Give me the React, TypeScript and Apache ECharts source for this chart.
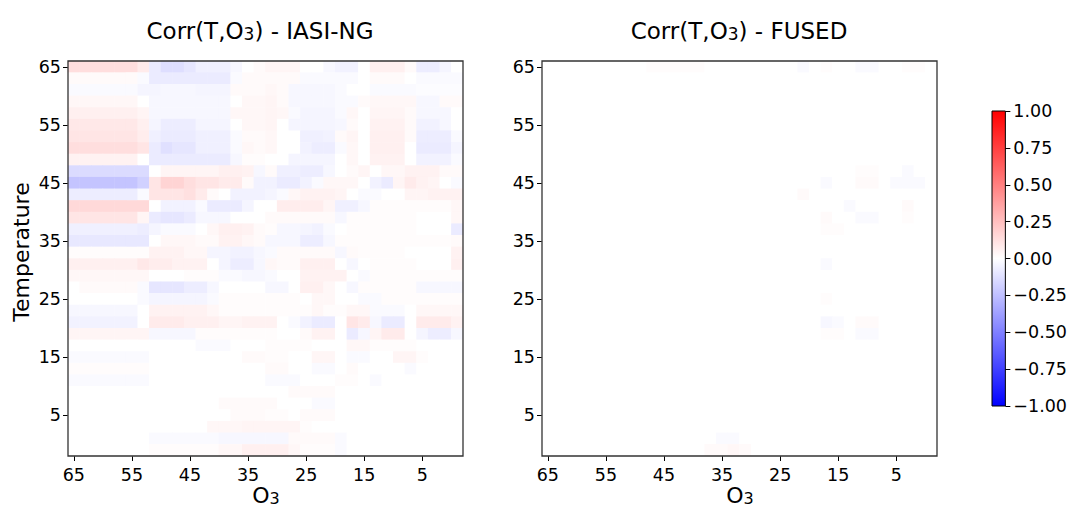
import React, { useEffect, useRef } from 'react';
import * as echarts from 'echarts';

const FONT = '"DejaVu Sans", sans-serif';

// Cell centres (index units) of the 34x34 correlation grid
const cellCenters = ['-1', '1', '3', '5', '7', '9', '11', '13', '15', '17', '19', '21', '23', '25', '27', '29', '31', '33',
  '35', '37', '39', '41', '43', '45', '47', '49', '51', '53', '55', '57', '59', '61', '63', '65'];
const tickLabels = ['5', '15', '25', '35', '45', '55', '65'];
const colorbarMin = -1;
const colorbarMax = 1;
const colorbarStep = 0.25;

// Corr(T,O3) - IASI-NG, rows from top (T=65) to bottom, columns from left (O3=65) to right
const iasiRow00 = [0.13,0.13,0.13,0.13,0.13,0.13,0.08,-0.08,-0.13,-0.13,-0.1,-0.06,-0.06,-0.06,-0.03,0,0.02,0.04,0.04,0.04,0,0,-0.03,-0.05,-0.05,0,0.06,0.06,0.06,0.02,-0.07,-0.07,-0.04,0];
const iasiRow01 = [0.02,0.02,0.02,0.02,0.02,0.02,-0.02,-0.08,-0.08,-0.08,-0.08,-0.08,-0.08,-0.08,-0.02,0.02,0.02,0.02,0.02,0.02,-0.02,-0.02,-0.02,-0.02,-0.02,0,0.02,0.02,0.02,0,-0.02,-0.02,-0.02,-0.02];
const iasiRow02 = [-0.02,-0.02,-0.02,-0.02,-0.02,-0.02,-0.04,-0.04,-0.03,-0.03,-0.03,-0.04,-0.04,-0.04,0.02,0.02,0.02,0.03,0.02,-0.03,-0.03,-0.03,-0.03,-0.02,0,0,-0.02,-0.02,-0.02,-0.02,-0.01,-0.01,-0.01,-0.01];
const iasiRow03 = [0.03,0.03,0.03,0.03,0.03,0.03,0,-0.03,-0.03,-0.03,-0.03,-0.03,-0.03,-0.03,0,0.03,0.03,0.04,0.02,-0.03,-0.03,-0.03,-0.03,-0.02,-0.02,0.02,0.03,0.03,0.03,0.03,-0.03,-0.03,0.02,0.02];
const iasiRow04 = [0.06,0.06,0.06,0.06,0.06,0.06,0.04,-0.03,-0.03,-0.03,-0.03,-0.03,-0.03,-0.03,0.03,0.03,0.03,0.04,0.03,-0.02,-0.04,-0.04,-0.04,-0.02,0.03,0,0.04,0.04,0.04,0.02,-0.03,-0.03,-0.03,0];
const iasiRow05 = [0.09,0.09,0.09,0.09,0.09,0.09,0.06,-0.04,-0.07,-0.07,-0.07,-0.04,-0.04,-0.04,0,0.03,0.03,0.04,0,-0.04,-0.04,-0.04,-0.04,-0.03,0.02,0,0.05,0.05,0.05,0.02,-0.05,-0.05,-0.03,0];
const iasiRow06 = [0.1,0.1,0.1,0.1,0.1,0.1,0.07,-0.06,-0.08,-0.08,-0.08,-0.06,-0.06,-0.06,-0.02,0.02,0.02,0.03,0,0,-0.06,-0.06,-0.05,0.02,0.04,0,0.06,0.06,0.06,0.02,-0.07,-0.07,-0.07,-0.02];
const iasiRow07 = [0.13,0.13,0.13,0.13,0.13,0.13,0.1,-0.08,-0.12,-0.1,-0.1,-0.06,-0.06,-0.06,-0.02,0.03,0.02,0.03,0,0,-0.05,-0.07,-0.07,-0.02,0.03,0,0.06,0.06,0.06,0,-0.08,-0.08,-0.08,-0.04];
const iasiRow08 = [0.05,0.05,0.05,0.05,0.05,0.05,0,-0.08,-0.08,-0.08,-0.08,-0.08,-0.08,-0.08,-0.03,0.01,0.01,0,0,-0.04,-0.04,-0.04,-0.04,0,0.03,0,0.05,0.05,0.05,0,-0.05,-0.05,-0.05,-0.02];
const iasiRow09 = [-0.14,-0.14,-0.14,-0.14,-0.14,-0.14,-0.14,0,0.04,0.04,0.04,0.04,0.04,0.06,0.06,0.05,-0.03,0.02,-0.06,-0.06,-0.07,-0.07,-0.03,0,0.02,0.04,0,0.03,0.03,0.05,0.05,0.05,0.02,0.02];
const iasiRow10 = [-0.23,-0.23,-0.23,-0.23,-0.23,-0.23,-0.18,0.1,0.17,0.17,0.13,0.1,0.1,0.08,0.08,0.02,-0.05,-0.05,-0.08,-0.08,-0.05,-0.02,0.03,0.03,0.03,0,-0.05,-0.08,0.04,0.08,0.05,0.04,0,-0.02];
const iasiRow11 = [-0.07,-0.07,-0.07,-0.07,-0.07,-0.07,-0.02,0.1,0.1,0.1,0.12,0.08,0.02,0,-0.05,-0.05,-0.05,-0.04,-0.02,0.03,0.05,0.05,0.05,0.04,0,-0.02,-0.02,0,0,0.04,0.04,0.05,0.05,0.05];
const iasiRow12 = [0.15,0.15,0.15,0.15,0.15,0.15,0.15,0,-0.05,-0.05,-0.05,-0.02,-0.08,-0.08,-0.08,-0.04,0,0,0.07,0.07,0.07,0.07,0.04,-0.06,-0.06,-0.03,0.01,0.01,0.01,0.01,0.01,0.01,0.01,0.03];
const iasiRow13 = [0.1,0.1,0.1,0.1,0.1,0.1,0.04,-0.08,-0.1,-0.1,-0.08,-0.03,-0.03,-0.03,0,0,0,0.02,0.02,0.02,0.02,0.02,0.02,-0.03,0.01,0.01,0.01,0.01,0.01,0.01,0,0,0,0.03];
const iasiRow14 = [-0.06,-0.06,-0.06,-0.06,-0.06,-0.06,-0.07,-0.04,-0.02,-0.02,-0.02,0,0.03,0.06,0.06,0.05,0.02,0.01,-0.03,-0.03,-0.04,-0.05,-0.02,0,0.01,0.01,0.01,0.01,0.01,0.01,0,0,0,-0.08];
const iasiRow15 = [-0.09,-0.09,-0.09,-0.09,-0.09,-0.09,-0.09,0,0.03,0.03,0.03,0.02,0.02,0.05,0.05,0.03,0.02,-0.03,-0.03,-0.03,-0.07,-0.07,-0.03,0.01,0.01,0.01,0.01,0.01,0.01,0.01,0.01,0.01,0.01,0.02];
const iasiRow16 = [0.01,0.01,0.01,0.01,0.01,0.01,0.01,0.05,0.05,0.05,0.03,0.03,-0.04,-0.04,-0.05,-0.05,-0.03,-0.02,0.02,0.02,0.02,0.02,0.02,-0.03,0.02,0.01,0.01,0.01,0.01,0,0,0,0,0.05];
const iasiRow17 = [0.06,0.06,0.06,0.06,0.06,0.06,0.09,0.07,0.07,0.05,0.05,0.05,0,-0.04,-0.07,-0.07,-0.03,0.03,0.02,0.02,0.06,0.06,0.06,0,-0.03,0,0.01,0.01,0.01,0.01,0,0,0,0.06];
const iasiRow18 = [0.03,0.03,0.03,0.03,0.03,0.03,0.03,0,0,0,0.01,0.01,0.01,-0.02,-0.02,-0.03,-0.03,-0.02,0,0,0.05,0.05,0.05,0.05,0,-0.02,0.01,0.01,0.01,0.01,0.01,0.01,0.01,0.01];
const iasiRow19 = [0,0.02,0.02,0.02,0.02,0.02,-0.02,-0.1,-0.1,-0.1,-0.07,-0.07,-0.03,0,0,0,0,-0.03,-0.03,0,0.06,0.06,0.03,0,-0.03,0.01,0.01,0.01,0.01,0.01,-0.03,-0.03,-0.03,-0.03];
const iasiRow20 = [0,0,0,0,0,0,-0.02,-0.04,-0.04,-0.04,-0.04,-0.04,-0.02,0.01,0.01,0.01,0.01,0.01,0.01,0.01,0,0.03,0.03,0,0,-0.02,-0.02,0.01,0.01,0.01,0.01,0.01,0.01,0.01];
const iasiRow21 = [-0.03,-0.03,-0.03,-0.03,-0.03,-0.03,0,0.05,0.05,0.05,0.05,0.05,0.03,0.01,0.01,0.01,0.01,0.01,0.01,0.01,0.01,0.03,0.01,0.01,0.03,0.03,-0.02,-0.02,-0.02,0,0.03,0.03,0.03,0.03];
const iasiRow22 = [-0.05,-0.05,-0.05,-0.05,-0.05,-0.05,0,0.08,0.08,0.08,0.06,0.06,0.06,0.04,0.04,0.05,0.05,0.05,0,-0.02,-0.05,-0.08,-0.08,0,0.1,0.08,-0.03,-0.08,-0.08,0,0.08,0.08,0.08,0.05];
const iasiRow23 = [0.04,0.04,0.04,0.04,0.04,0.04,0.04,-0.03,-0.03,-0.03,-0.03,0.01,0.01,0.01,0.01,0.01,0.01,0.01,0,0,0.02,0.05,0.05,0,-0.08,-0.03,0.04,0.08,0.08,0,-0.04,-0.07,-0.07,-0.03];
const iasiRow24 = [0,0,0,0,0,0,0,0,0,0,0,-0.02,-0.02,-0.02,0,0,0,0.01,0.01,0.01,0.01,0,0,0,0.03,0.03,0.01,0.01,0.01,0.01,0,0,0,0];
const iasiRow25 = [-0.02,-0.02,-0.02,-0.02,-0.02,-0.02,-0.02,0,0,0,0,0,0,0,0,0.02,0.02,0.01,0.01,0,0,0.035,0.035,0,-0.02,-0.02,0,0,0.04,0.04,0.01,0,0,0];
const iasiRow26 = [0.01,0.01,0.01,0.01,0.01,0.01,0.01,0,0,0,0,0,0,0,0,0,0,0.02,0.02,0,0,-0.02,-0.02,0,0.02,0,0,0,0,-0.02,0,0,0,0];
const iasiRow27 = [-0.02,-0.02,-0.02,-0.02,-0.02,-0.02,-0.02,0,0,0,0,0,0,0,0,0,0,-0.02,-0.02,-0.02,0,0,0,0.01,0.01,0,-0.02,0,0,0,0,0,0,0];
const iasiRow28 = [0,0,0,0,0,0,0,0,0,0,0,0,0,0,0,0,0,0,0,0.02,0.02,0.02,0.02,0,0,0,0,0,0,0,0,0,0,0];
const iasiRow29 = [0,0,0,0,0,0,0,0,0,0,0,0,0,0.02,0.02,0.02,0.02,0.02,0,0,0,-0.02,-0.02,0,0,0,0,0,0,0,0,0,0,0];
const iasiRow30 = [0,0,0,0,0,0,0,0,0,0,0,0,0,0,0.02,0.02,0.02,0.01,0.01,0,0.02,0.02,0.02,0,0,0,0,0,0,0,0,0,0,0];
const iasiRow31 = [0,0,0,0,0,0,0,0,0,0,0,0,0.03,0.03,0.03,0.04,0.04,0.04,0.04,0.04,0.01,0,0,0,0,0,0,0,0,0,0,0,0,0];
const iasiRow32 = [0,0,0,0,0,0,0,-0.02,-0.02,-0.02,-0.02,-0.02,-0.02,-0.03,-0.03,-0.03,-0.03,-0.03,-0.03,0.02,0.02,0.02,0.02,-0.02,0,0,0,0,0,0,0,0,0,0];
const iasiRow33 = [0,0,0,0,0,0,0,0.01,0.01,0.01,0.01,0.01,0.01,0.03,0.03,0.06,0.06,0.06,0.06,0.03,0.01,0.01,0.01,-0.02,0,0,0,0,0,0,0,0,0,0];

const iasiRows = [iasiRow00, iasiRow01, iasiRow02, iasiRow03, iasiRow04, iasiRow05, iasiRow06, iasiRow07, iasiRow08,
  iasiRow09, iasiRow10, iasiRow11, iasiRow12, iasiRow13, iasiRow14, iasiRow15, iasiRow16, iasiRow17, iasiRow18,
  iasiRow19, iasiRow20, iasiRow21, iasiRow22, iasiRow23, iasiRow24, iasiRow25, iasiRow26, iasiRow27, iasiRow28,
  iasiRow29, iasiRow30, iasiRow31, iasiRow32, iasiRow33];

// Corr(T,O3) - FUSED: nearly zero everywhere; the few faintly coloured cells [rowFromTop, colFromLeft, value]
const fusedCells = [
  [0, 9, 0.01], [0, 10, 0.01], [0, 11, 0.01], [0, 12, 0.01], [0, 13, 0.01], [0, 22, -0.02], [0, 24, 0.01],
  [0, 27, -0.02], [0, 28, -0.02], [0, 31, 0.01], [0, 32, 0.01],
  [9, 27, 0.01], [9, 28, 0.01], [9, 31, -0.02],
  [10, 24, -0.02], [10, 27, 0.02], [10, 28, 0.02], [10, 30, -0.02], [10, 31, -0.02], [10, 32, -0.02],
  [11, 22, 0.02],
  [12, 26, -0.02], [12, 31, 0.02],
  [13, 24, 0.02], [13, 27, -0.02], [13, 28, -0.02], [13, 31, 0.01],
  [14, 24, 0.01], [14, 25, 0.01],
  [17, 24, -0.02],
  [20, 24, 0.01],
  [22, 24, -0.03], [22, 25, -0.02], [22, 27, 0.02], [22, 28, 0.02],
  [23, 24, 0.01], [23, 25, 0.01], [23, 27, -0.02], [23, 28, -0.02],
  [32, 15, -0.02], [32, 16, -0.02],
  [33, 14, 0.02], [33, 15, 0.02], [33, 16, 0.03], [33, 17, 0.02],
];

const N = cellCenters.length;

function rowsToHeatmap(rows: number[][]) {
  const out: number[][] = [];
  rows.forEach((row, r) => row.forEach((v, c) => out.push([N - 1 - c, N - 1 - r, v])));
  return out;
}

function fusedToHeatmap() {
  const map = new Map<string, number>();
  fusedCells.forEach(([r, c, v]) => map.set(r + '_' + c, v));
  const out: number[][] = [];
  for (let r = 0; r < N; r++) {
    for (let c = 0; c < N; c++) {
      out.push([N - 1 - c, N - 1 - r, map.get(r + '_' + c) ?? 0]);
    }
  }
  return out;
}

const showTick = (index: number) => tickLabels.includes(cellCenters[index]);

function heatAxes(gridIndex: number) {
  const common = {
    type: 'category' as const,
    gridIndex,
    data: cellCenters,
    axisLine: { show: false },
    splitLine: { show: false },
    splitArea: { show: false },
  };
  const tick = { show: true, alignWithLabel: true, interval: showTick, length: 5, lineStyle: { color: '#000', width: 1 } };
  return {
    x: {
      ...common,
      inverse: true,
      axisTick: tick,
      axisLabel: { interval: showTick, fontSize: 17.5, color: '#000', fontFamily: FONT, margin: 10 },
    },
    y: {
      ...common,
      axisTick: tick,
      axisLabel: { interval: showTick, fontSize: 17.5, color: '#000', fontFamily: FONT, margin: 7 },
    },
  };
}

function richLabel(main: string, sub: string, rest: string, size: number, lh: number) {
  const subSize = Math.round(size * 0.74);
  return {
    text: `{m|${main}}{s|${sub}}` + (rest ? `{m|${rest}}` : ''),
    rich: {
      m: { fontSize: size, fontFamily: FONT, fill: '#000', lineHeight: lh, verticalAlign: 'bottom' },
      s: { fontSize: subSize, fontFamily: FONT, fill: '#000', lineHeight: subSize, verticalAlign: 'bottom' },
    },
  };
}

export default function App() {
  const ref = useRef<HTMLDivElement>(null);

  useEffect(() => {
    if (!ref.current) return;
    const chart = echarts.init(ref.current, undefined, { renderer: 'svg' });
    const a0 = heatAxes(0);
    const a1 = heatAxes(1);

    const gradient = new echarts.graphic.LinearGradient(0, 0, 0, 1, [
      { offset: 0, color: '#ff0000' },
      { offset: 0.5, color: '#ffffff' },
      { offset: 1, color: '#0000ff' },
    ]);

    chart.setOption({
      animation: false,
      backgroundColor: '#ffffff',
      grid: [
        { left: 68, top: 61, width: 395, height: 395, show: true, borderColor: '#333', borderWidth: 1.3, backgroundColor: 'transparent', z: 10 },
        { left: 542, top: 61, width: 395, height: 395, show: true, borderColor: '#333', borderWidth: 1.3, backgroundColor: 'transparent', z: 10 },
        { left: 992, top: 111, width: 15, height: 295, show: true, borderColor: '#000', borderWidth: 1, backgroundColor: gradient },
      ],
      xAxis: [
        a0.x,
        a1.x,
        { type: 'category', gridIndex: 2, data: [''], show: false },
      ],
      yAxis: [
        a0.y,
        a1.y,
        {
          type: 'value', gridIndex: 2, position: 'right', min: colorbarMin, max: colorbarMax, interval: colorbarStep,
          axisLine: { show: false },
          splitLine: { show: false },
          axisTick: { show: true, length: 5, lineStyle: { color: '#000' } },
          axisLabel: {
            fontSize: 17.5, color: '#000', fontFamily: FONT, margin: 8,
            formatter: (v: number) => v.toFixed(2).replace('-', '\u2212'),
          },
        },
      ],
      visualMap: {
        type: 'continuous', show: false, min: colorbarMin, max: colorbarMax, dimension: 2, seriesIndex: [0, 1],
        inRange: { color: ['#0000ff', '#ffffff', '#ff0000'] },
      },
      series: [
        { type: 'heatmap', xAxisIndex: 0, yAxisIndex: 0, data: rowsToHeatmap(iasiRows), itemStyle: { borderWidth: 0 }, emphasis: { disabled: true }, progressive: 0 },
        { type: 'heatmap', xAxisIndex: 1, yAxisIndex: 1, data: fusedToHeatmap(), itemStyle: { borderWidth: 0 }, emphasis: { disabled: true }, progressive: 0 },
      ],
      graphic: [
        { type: 'text', x: 260, y: 24, style: { ...richLabel('Corr(T,O', '3', ') - IASI-NG', 23, 36), align: 'center', verticalAlign: 'middle' } },
        { type: 'text', x: 739, y: 24, style: { ...richLabel('Corr(T,O', '3', ') - FUSED', 23, 36), align: 'center', verticalAlign: 'middle' } },
        { type: 'text', x: 266, y: 494.5, style: { ...richLabel('O', '3', '', 22, 24), align: 'center', verticalAlign: 'middle' } },
        { type: 'text', x: 740, y: 494.5, style: { ...richLabel('O', '3', '', 22, 24), align: 'center', verticalAlign: 'middle' } },
        { type: 'text', x: 21, y: 252, rotation: Math.PI / 2, style: { text: 'Temperature', font: `22px ${FONT}`, fill: '#000', align: 'center', verticalAlign: 'middle' } },
      ],
    });
    return () => chart.dispose();
  }, []);

  return <div ref={ref} style={{ position: 'absolute', left: 0, top: 0, width: 1070, height: 507 }} />;
}
